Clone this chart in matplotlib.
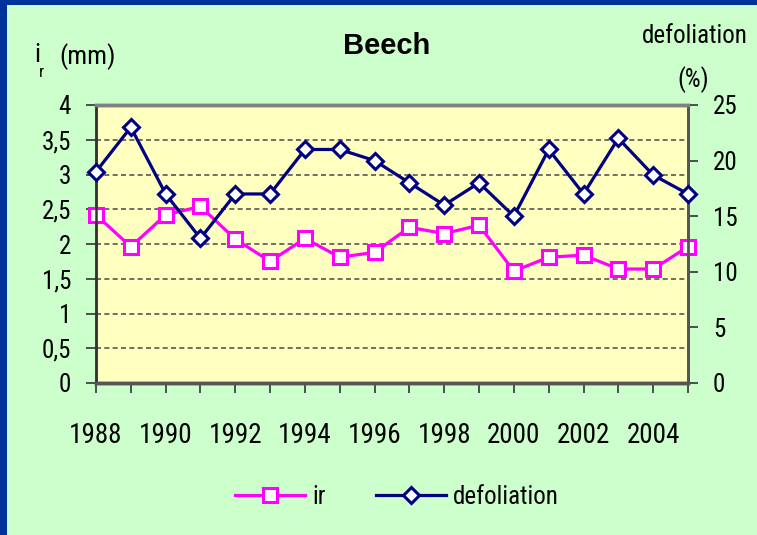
import matplotlib
matplotlib.use("Agg")
import matplotlib.pyplot as plt
from matplotlib.patches import Rectangle
from matplotlib.lines import Line2D

years = list(range(1988, 2006))
ir = [2.42, 1.96, 2.42, 2.54, 2.07, 1.75, 2.08, 1.81, 1.88,
      2.24, 2.15, 2.27, 1.61, 1.81, 1.84, 1.64, 1.64, 1.96]
defoliation = [19, 23, 17, 13, 17, 17, 21, 21, 20,
               18, 16, 18, 15, 21, 17, 22, 18.7, 17]
year_labels = [str(y) if y % 2 == 0 else "" for y in years]
left_ticks = [0, 0.5, 1, 1.5, 2, 2.5, 3, 3.5, 4]
left_labels = ["0", "0,5", "1", "1,5", "2", "2,5", "3", "3,5", "4"]
right_ticks = [0, 5, 10, 15, 20, 25]

FONT = ["Roboto Condensed", "Liberation Sans", "DejaVu Sans"]
plt.rcParams["font.family"] = FONT

PINK = "#FF00FF"
NAVY = "#000080"

fig = plt.figure(figsize=(7.57, 5.35), dpi=100)
fig.patch.set_facecolor("#CCFFCC")

# blue frame on top and left edges
fig.patches.append(Rectangle((0, 1-5/535), 1, 5/535, transform=fig.transFigure,
                             facecolor="#003399", edgecolor="none"))
fig.patches.append(Rectangle((0, 0), 7/757, 1, transform=fig.transFigure,
                             facecolor="#003399", edgecolor="none"))

ax = fig.add_axes([96/757, 1-383/535, (688-96)/757, (383-105)/535])
ax.set_facecolor("#FFFFC0")
ax2 = ax.twinx()

ax.set_xlim(1988, 2005)
ax.set_ylim(0, 4)
ax2.set_ylim(0, 25)

for y in left_ticks[1:-1]:
    ax.axhline(y, color="#555555", linestyle=(0, (3, 2)), linewidth=1.2, zorder=1)

ax.plot(years, ir, color=PINK, linewidth=2.3, marker="s", markersize=10,
        markerfacecolor="white", markeredgecolor=PINK, markeredgewidth=2.2,
        clip_on=False, zorder=5)
ax2.plot(years, defoliation, color=NAVY, linewidth=2.3, marker="D", markersize=8.5,
         markerfacecolor="white", markeredgecolor=NAVY, markeredgewidth=2.2,
         clip_on=False, zorder=5)

ax.set_xticks(years)
ax.set_xticklabels(year_labels, fontsize=19.5)
ax.set_yticks(left_ticks)
ax.set_yticklabels(left_labels, fontsize=18)
ax2.set_yticks(right_ticks)
ax2.set_yticklabels([str(t) for t in right_ticks], fontsize=18)

ax.tick_params(axis="x", direction="out", length=7, width=1.2, pad=21, color="#333333")
ax.tick_params(axis="y", direction="out", length=7, width=1.2, pad=11, color="#333333")
ax2.tick_params(axis="y", direction="out", length=7, width=1.2, pad=11, color="#333333")

for a in (ax, ax2):
    a.spines["top"].set_color("#808080")
    a.spines["top"].set_linewidth(2.5)
    a.spines["bottom"].set_color("#555555")
    a.spines["bottom"].set_linewidth(2.5)
    a.spines["left"].set_color("#333333")
    a.spines["left"].set_linewidth(1.8)
    a.spines["right"].set_color("#555555")
    a.spines["right"].set_linewidth(2.0)

fig.text(387/757, 1-46/535, "Beech", fontsize=21, fontweight="bold",
         ha="center", va="center", family=["Liberation Sans", "DejaVu Sans"])
fig.text(34/757, 1-55/535, "i", fontsize=19, ha="left", va="center")
fig.text(39/757, 1-72/535, "r", fontsize=12, ha="left", va="center")
fig.text(59/757, 1-57/535, "(mm)", fontsize=19, ha="left", va="center")
fig.text(748/757, 1-36/535, "defoliation", fontsize=18, ha="right", va="center")
fig.text(693/757, 1-80/535, "(%)", fontsize=18, ha="center", va="center")

handles = [
    Line2D([], [], color=PINK, linewidth=2.3, marker="s", markersize=10,
           markerfacecolor="white", markeredgecolor=PINK, markeredgewidth=2.2),
    Line2D([], [], color=NAVY, linewidth=2.3, marker="D", markersize=8.5,
           markerfacecolor="white", markeredgecolor=NAVY, markeredgewidth=2.2),
]
fig.legend(handles, ["ir", "defoliation"], loc="center", bbox_to_anchor=(397/757, 1-497/535),
           ncol=2, frameon=False, fontsize=18, handlelength=2.8, columnspacing=2.0,
           handletextpad=0.3)

fig.savefig("out.png", dpi=100, facecolor=fig.get_facecolor())
